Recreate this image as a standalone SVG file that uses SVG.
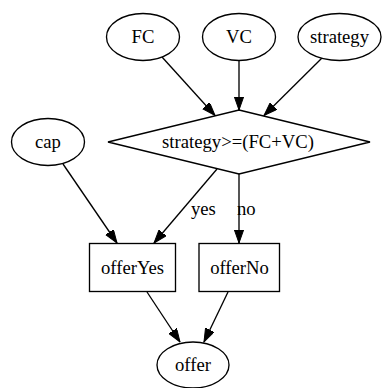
<svg xmlns="http://www.w3.org/2000/svg" width="382" height="388" viewBox="0 0 382 388">
<style>
.n{fill:#fff;stroke:#000;stroke-width:1.33}
.t{font-family:"Liberation Serif","Times New Roman",serif;font-size:18.67px;fill:#000;text-anchor:middle}
.l{font-family:"Liberation Serif","Times New Roman",serif;font-size:18.67px;fill:#000;text-anchor:start}
.e{stroke:#000;stroke-width:1.33;fill:none;marker-end:url(#ah)}
</style>
<defs>
<marker id="ah" markerUnits="userSpaceOnUse" markerWidth="14" markerHeight="10" refX="13.3" refY="4.7" orient="auto">
<path d="M0,0 L13.3,4.7 L0,9.4 Z" fill="#000" stroke="#000" stroke-width="1"/>
</marker>
</defs>
<rect width="382" height="388" fill="#fff"/>
<g id="edges">
<line class="e" x1="162" y1="57" x2="215" y2="115.5"/>
<line class="e" x1="239" y1="61" x2="239" y2="110"/>
<line class="e" x1="323" y1="57" x2="264" y2="115.5"/>
<line class="e" x1="63" y1="164" x2="117" y2="243"/>
<line class="e" x1="217" y1="169" x2="154" y2="243"/>
<line class="e" x1="239" y1="174" x2="239" y2="243"/>
<line class="e" x1="147" y1="292" x2="180" y2="342"/>
<line class="e" x1="228" y1="292" x2="204" y2="342"/>
<text class="l" x="191" y="215">yes</text>
<text class="l" x="237" y="215">no</text>
</g>
<g id="FC"><ellipse class="n" cx="143" cy="37" rx="36.5" ry="23.5"/><text class="t" x="143" y="43">FC</text></g>
<g id="VC"><ellipse class="n" cx="239" cy="37" rx="36.5" ry="23.5"/><text class="t" x="239" y="43">VC</text></g>
<g id="strategy"><ellipse class="n" cx="339.5" cy="37" rx="41.5" ry="23.5"/><text class="t" x="339.5" y="43">strategy</text></g>
<g id="cap"><ellipse class="n" cx="48" cy="142" rx="36.5" ry="23.5"/><text class="t" x="48" y="148">cap</text></g>
<g id="cond"><polygon class="n" points="239,110 370,142 239,174 108,142"/><text class="t" x="238" y="148">strategy&gt;=(FC+VC)</text></g>
<g id="offerYes"><rect class="n" x="89.5" y="243.5" width="86" height="48"/><text class="t" x="132.5" y="274">offerYes</text></g>
<g id="offerNo"><rect class="n" x="199" y="243.5" width="80.5" height="48"/><text class="t" x="239.5" y="274">offerNo</text></g>
<g id="offer"><ellipse class="n" cx="193" cy="365" rx="36" ry="23"/><text class="t" x="193" y="371">offer</text></g>
</svg>
